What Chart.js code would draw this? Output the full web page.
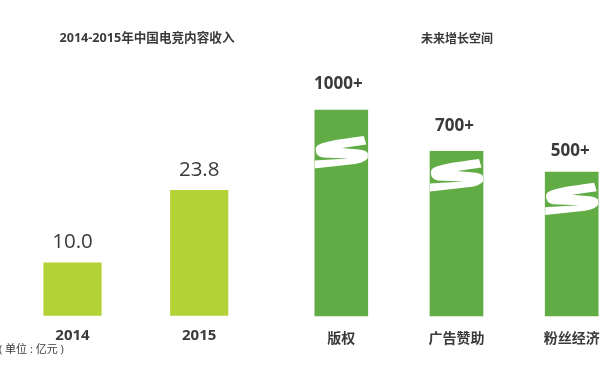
<!DOCTYPE html>
<html lang="zh">
<head>
<meta charset="utf-8">
<script src="https://cdn.jsdelivr.net/npm/chart.js"></script>
<style>
    html, body { margin: 0; padding: 0; background: #fff; width: 604px; height: 372px; overflow: hidden; }
    .box { position: absolute; top: 0; height: 372px; }
    .txt { position: absolute; white-space: nowrap; color: #3a3a3c; font-family: "Open Sans", "Noto Sans CJK SC", sans-serif; transform: translate(-50%, -50%); }
</style>
</head>
<body>
<div class="box" style="left:0;width:300px"><canvas id="left"></canvas></div>
<div class="box" style="left:300px;width:304px"><canvas id="right"></canvas></div>
<div class="txt" style="left:147px;top:36px;font-size:12.6px;font-weight:700">2014-2015年中国电竞内容收入</div>
<div class="txt" style="left:457px;top:38px;font-size:12px;font-weight:700">未来增长空间</div>
<div class="txt" style="left:-1px;top:348px;font-size:11px;transform:translate(0,-50%)">( 单位 : 亿元 )</div>
<script>
// 왼쪽: 연도별 수입
const years = ['2014', '2015'];
const revenue = [10.0, 23.8];
const revenueLabels = ['10.0', '23.8'];
// 오른쪽: 성장 공간 (막대가 S자로 잘려 있어 축이 비선형)
const fields = ['版权', '广告赞助', '粉丝经济'];
const potential = [1000, 700, 500];
const potentialLabels = ['1000+', '700+', '500+'];
const axisStops = [0, 500, 700, 1000];
const stopShares = [0, 0.699, 0.799, 1];

const textColor = '#3a3a3c';
const fontFamily = '"Open Sans", "Noto Sans CJK SC", sans-serif';

// broken axis, piecewise between the stops
class BrokenScale extends Chart.LinearScale {
    getPixelForValue(value) {
        let i = 1;
        while (i < axisStops.length - 1 && value > axisStops[i]) i++;
        const t = (value - axisStops[i - 1]) / (axisStops[i] - axisStops[i - 1]);
        return this.getPixelForDecimal(stopShares[i - 1] + t * (stopShares[i] - stopShares[i - 1]));
    }
}
BrokenScale.id = 'broken';
BrokenScale.defaults = Chart.LinearScale.defaults;
Chart.register(BrokenScale);

// value text above each bar
const barText = {
    id: 'barText',
    afterDatasetsDraw(chart, args, opts) {
        const ctx = chart.ctx;
        ctx.save();
        ctx.fillStyle = textColor;
        ctx.font = opts.font;
        ctx.textAlign = 'center';
        ctx.textBaseline = 'middle';
        chart.getDatasetMeta(0).data.forEach((bar, i) => {
            ctx.fillText(opts.labels[i], bar.x + opts.shift[i], bar.y - opts.lift[i]);
        });
        ctx.restore();
    }
};

// white S mark cut across each bar
const breakMark = {
    id: 'breakMark',
    afterDatasetsDraw(chart, args, opts) {
        if (!opts.offsets) return;
        const ctx = chart.ctx;
        chart.getDatasetMeta(0).data.forEach((bar, i) => {
            const w = bar.width;
            const x = bar.x - w / 2;
            const y = bar.y + opts.offsets[i];
            ctx.save();
            ctx.beginPath();
            ctx.rect(x, bar.y, w, bar.base - bar.y);
            ctx.clip();
            ctx.translate(x, y);
            ctx.fillStyle = '#fff';
            ctx.beginPath();
            ctx.moveTo(49, 0);
            ctx.bezierCurveTo(30, 3, 3, 5, 1, 12);
            ctx.quadraticCurveTo(0, 20, 8, 21.5);
            ctx.lineTo(34, 22.5);
            ctx.lineTo(-1, 24.5);
            ctx.lineTo(-1, 32.5);
            ctx.lineTo(40, 28);
            ctx.bezierCurveTo(50, 26.5, 56, 22, 53, 17);
            ctx.quadraticCurveTo(51, 14, 44, 13.5);
            ctx.lineTo(27, 12);
            ctx.lineTo(51.5, 8.5);
            ctx.closePath();
            ctx.fill();
            ctx.restore();
        });
    }
};

function makeChart(id, cfg) {
    return new Chart(document.getElementById(id), {
        type: 'bar',
        data: {
            labels: cfg.labels,
            datasets: [{ data: cfg.values, backgroundColor: cfg.color, barThickness: cfg.thick, clip: false }]
        },
        plugins: [breakMark, barText],
        options: {
            responsive: true,
            maintainAspectRatio: false,
            animation: false,
            layout: { padding: cfg.padding },
            plugins: {
                legend: { display: false },
                tooltip: { enabled: false },
                barText: cfg.text,
                breakMark: cfg.mark
            },
            scales: {
                x: {
                    offset: false,
                    grid: { display: false, drawTicks: false },
                    border: { display: false },
                    afterFit(scale) {
                        scale.height = cfg.axisHeight;
                        scale.paddingLeft = 0;
                        scale.paddingRight = 0;
                    },
                    ticks: {
                        color: textColor,
                        padding: cfg.tickPadding,
                        autoSkip: false,
                        maxRotation: 0,
                        font: { family: fontFamily, size: cfg.tickSize, weight: 700 }
                    }
                },
                y: cfg.y
            }
        }
    });
}

makeChart('left', {
    labels: years,
    values: revenue,
    color: '#b2d235',
    thick: 57.5,
    padding: { left: 72.5, right: 100.8, top: 0, bottom: 0 },
    axisHeight: 56.5,
    tickPadding: 11,
    tickSize: 15,
    y: { display: false, min: 0, max: 60 },
    text: { labels: revenueLabels, font: '20.5px ' + fontFamily, shift: [0, 0], lift: [20.5, 20.5] }
});

makeChart('right', {
    labels: fields,
    values: potential,
    color: '#62ac46',
    thick: 53,
    padding: { left: 41.3, right: 32.3, top: 110, bottom: 0 },
    axisHeight: 56,
    tickPadding: 15,
    tickSize: 14,
    y: { type: 'broken', display: false, min: 0, max: 1000 },
    text: { labels: potentialLabels, font: '700 17px ' + fontFamily, shift: [-3, -2, -1.5], lift: [25.5, 25.5, 20.5] },
    mark: { offsets: [26, 7.7, 10.7] }
});
</script>
</body>
</html>
